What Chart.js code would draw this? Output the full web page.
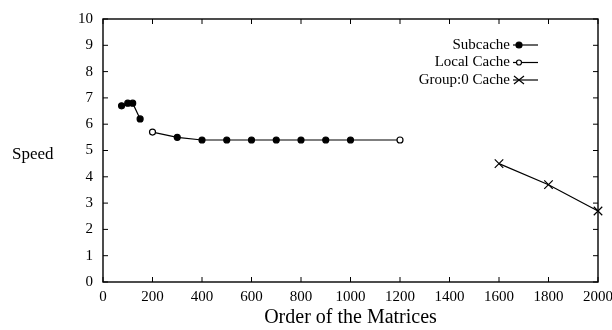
<!DOCTYPE html>
<html>
<head>
<meta charset="utf-8">
<script src="https://cdn.jsdelivr.net/npm/chart.js@4.4.1/dist/chart.umd.min.js"></script>
<style>
  html, body { margin: 0; padding: 0; background: #fff; overflow: hidden; }
  #wrap { width: 640px; height: 330px; }
</style>
</head>
<body>
<div id="wrap"><canvas id="speedChart"></canvas></div>
<script>
const subcacheX = [75, 100, 120, 150];
const subcacheY = [6.7, 6.8, 6.8, 6.2];

const localX = [200, 300, 400, 500, 600, 700, 800, 900, 1000, 1200];
const localY = [5.7, 5.5, 5.4, 5.4, 5.4, 5.4, 5.4, 5.4, 5.4, 5.4];

const groupX = [1600, 1800, 2000];
const groupY = [4.5, 3.7, 2.7];

const xTicks = [0, 200, 400, 600, 800, 1000, 1200, 1400, 1600, 1800, 2000];
const yTicks = [0, 1, 2, 3, 4, 5, 6, 7, 8, 9, 10];

const serif = "'Liberation Serif', 'DejaVu Serif', serif";

function toPoints(xs, ys) {
  return xs.map((x, i) => ({ x: x, y: ys[i] }));
}

// the open circles at the two ends of the local cache line
const localFill = localX.map((x, i) => (i === 0 || i === localX.length - 1) ? "#fff" : "#000");

// frame, inner ticks, legend and axis titles like the old plot
const framePlugin = {
  id: "frame",
  afterDatasetsDraw(chart) {
    const ctx = chart.ctx;
    const a = chart.chartArea;
    const xs = chart.scales.x;
    const ys = chart.scales.y;
    ctx.save();
    ctx.strokeStyle = "#000";
    ctx.lineWidth = 1.4;
    ctx.strokeRect(a.left, a.top, a.right - a.left, a.bottom - a.top);
    ctx.lineWidth = 1;
    ctx.beginPath();
    xTicks.forEach((v) => {
      const px = xs.getPixelForValue(v);
      ctx.moveTo(px, a.bottom); ctx.lineTo(px, a.bottom - 5);
      ctx.moveTo(px, a.top); ctx.lineTo(px, a.top + 5);
    });
    yTicks.forEach((v) => {
      const py = ys.getPixelForValue(v);
      ctx.moveTo(a.left, py); ctx.lineTo(a.left + 5, py);
      ctx.moveTo(a.right, py); ctx.lineTo(a.right - 5, py);
    });
    ctx.stroke();

    // legend, text first then the line sample
    ctx.font = "15px " + serif;
    ctx.fillStyle = "#000";
    ctx.textAlign = "right";
    ctx.textBaseline = "middle";
    chart.data.datasets.forEach((ds, i) => {
      const y = 45 + i * 17.5;
      ctx.fillText(ds.label, 510, y);
      ctx.beginPath();
      ctx.lineWidth = 1.2;
      ctx.moveTo(513, y); ctx.lineTo(538, y);
      ctx.stroke();
      if (ds.pointStyle === "crossRot") {
        ctx.beginPath();
        ctx.moveTo(514, y - 4); ctx.lineTo(524, y + 4);
        ctx.moveTo(514, y + 4); ctx.lineTo(524, y - 4);
        ctx.stroke();
      } else {
        ctx.beginPath();
        ctx.arc(519, y, i === 0 ? 3 : 2.5, 0, Math.PI * 2);
        ctx.fillStyle = i === 0 ? "#000" : "#fff";
        ctx.fill();
        ctx.stroke();
        ctx.fillStyle = "#000";
      }
    });

    ctx.textAlign = "left";
    ctx.font = "17px " + serif;
    ctx.fillText("Speed", 12, 155);
    ctx.textAlign = "center";
    ctx.font = "20px " + serif;
    ctx.fillText("Order of the Matrices", (a.left + a.right) / 2, 318);
    ctx.restore();
  },
};

const chart = new Chart("speedChart", {
  type: "line",
  data: {
    datasets: [
      {
        label: "Subcache",
        data: toPoints(subcacheX, subcacheY),
        borderColor: "#000",
        backgroundColor: "#000",
        borderWidth: 1.2,
        pointStyle: "circle",
        pointRadius: 3,
        lineTension: 0,
        fill: false,
        clip: false,
      },
      {
        label: "Local Cache",
        data: toPoints(localX, localY),
        borderColor: "#000",
        backgroundColor: "#000",
        pointBackgroundColor: localFill,
        borderWidth: 1.2,
        pointStyle: "circle",
        pointRadius: 3,
        lineTension: 0,
        fill: false,
        clip: false,
      },
      {
        label: "Group:0 Cache",
        data: toPoints(groupX, groupY),
        borderColor: "#000",
        backgroundColor: "#000",
        borderWidth: 1.2,
        pointStyle: "crossRot",
        pointRadius: 6,
        pointBorderWidth: 1.2,
        lineTension: 0,
        fill: false,
        clip: false,
      },
    ],
  },
  options: {
    responsive: true,
    maintainAspectRatio: false,
    animation: false,
    layout: { padding: { left: 0, right: 42, top: 18, bottom: 0 } },
    plugins: {
      legend: { display: false },
      tooltip: { enabled: false },
    },
    scales: {
      x: {
        type: "linear",
        min: 0,
        max: 2000,
        grid: { display: false, drawTicks: false },
        border: { display: false },
        ticks: {
          stepSize: 200,
          padding: 6,
          maxRotation: 0,
          color: "#000",
          font: { family: serif, size: 15 },
          callback: (v) => String(v),
        },
        afterFit(scale) { scale.height = 48; },
      },
      y: {
        min: 0,
        max: 10,
        grid: { display: false, drawTicks: false },
        border: { display: false },
        ticks: {
          stepSize: 1,
          padding: 10,
          color: "#000",
          font: { family: serif, size: 15 },
        },
        afterFit(scale) { scale.width = 103; },
      },
    },
  },
  plugins: [framePlugin],
});
</script>
</body>
</html>
